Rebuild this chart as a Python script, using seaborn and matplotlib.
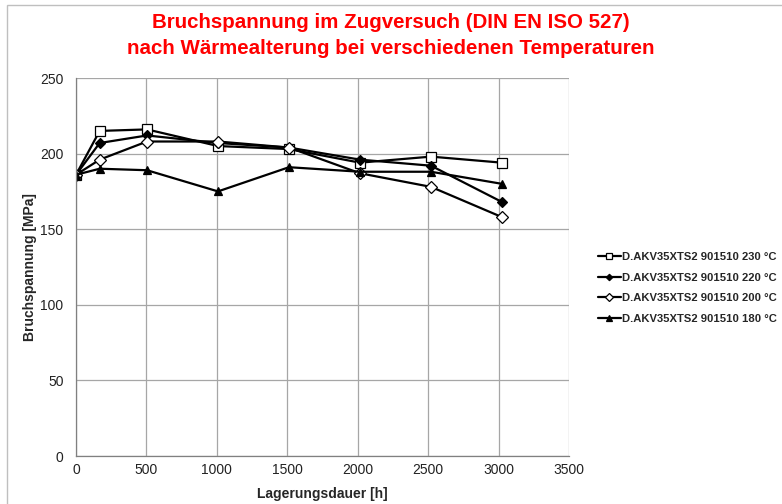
import matplotlib
matplotlib.use("Agg")
import matplotlib.pyplot as plt
import seaborn as sns
import pandas as pd
from matplotlib.patches import Rectangle

sns.set_theme(style="white")
plt.rcParams['font.family'] = ['Liberation Sans', 'DejaVu Sans']

hours = [0, 168, 504, 1008, 1512, 2016, 2520, 3024]
s230 = [186, 215, 216, 205, 203, 194, 198, 194]
s220 = [186, 207, 212, 207, 204, 196, 192, 168]
s200 = [186, 196, 208, 208, 204, 187, 178, 158]
s180 = [186, 190, 189, 175, 191, 188, 188, 180]
labels = ["D.AKV35XTS2 901510 230 °C", "D.AKV35XTS2 901510 220 °C",
          "D.AKV35XTS2 901510 200 °C", "D.AKV35XTS2 901510 180 °C"]
series = [s230, s220, s200, s180]
markers = ["s", "D", "D", "^"]
faces = ["white", "black", "white", "black"]
msizes = [7, 5, 6, 6]

fig = plt.figure(figsize=(7.82, 5.04), dpi=100)
ax = fig.add_axes([76/782, 1-456/504, (569-76)/782, (456-78)/504])

for lab, vals, m, fc, ms in zip(labels, series, markers, faces, msizes):
    df = pd.DataFrame({"h": hours, "v": vals})
    sns.lineplot(data=df, x="h", y="v", ax=ax, color="black", lw=1.6,
                 marker=m, markerfacecolor=fc, markeredgecolor="black",
                 markersize=ms, markeredgewidth=0.9, label=lab)

ax.set_xlim(0, 3500)
ax.set_ylim(0, 250)
ax.set_xticks(range(0, 3501, 500))
ax.set_yticks(range(0, 251, 50))
ax.grid(True, color="#a6a6a6", lw=0.9)
for s in ["top", "right"]:
    ax.spines[s].set_visible(False)
for s in ["left", "bottom"]:
    ax.spines[s].set_color("#808080")
    ax.spines[s].set_linewidth(0.9)
ax.tick_params(axis="both", labelsize=10, colors="#222222", length=0, pad=5)
ax.tick_params(axis="y", pad=9)
ax.set_xlabel("Lagerungsdauer [h]", fontsize=10, fontweight="bold", labelpad=7)
ax.set_ylabel("Bruchspannung [MPa]", fontsize=10, fontweight="bold", labelpad=2)

leg = ax.legend(loc="center left", bbox_to_anchor=(588/782, 1-288/504),
                bbox_transform=fig.transFigure, frameon=False,
                prop={"size": 8.1, "weight": "bold"}, handlelength=2.0,
                handletextpad=0.1, labelspacing=0.95, markerscale=0.65)

fig.text(0.5, 1-23/504, "Bruchspannung im Zugversuch (DIN EN ISO 527)",
         ha="center", va="center", color="#ff0000", fontsize=14.8, fontweight="bold")
fig.text(0.5, 1-49/504, "nach Wärmealterung bei verschiedenen Temperaturen",
         ha="center", va="center", color="#ff0000", fontsize=14.8, fontweight="bold")

fig.patches.append(Rectangle((7/782, -0.1), 1.2, 1-5/504+0.1, transform=fig.transFigure,
                             fill=False, edgecolor="#bfbfbf", lw=1))

fig.savefig("out.png", dpi=100)
